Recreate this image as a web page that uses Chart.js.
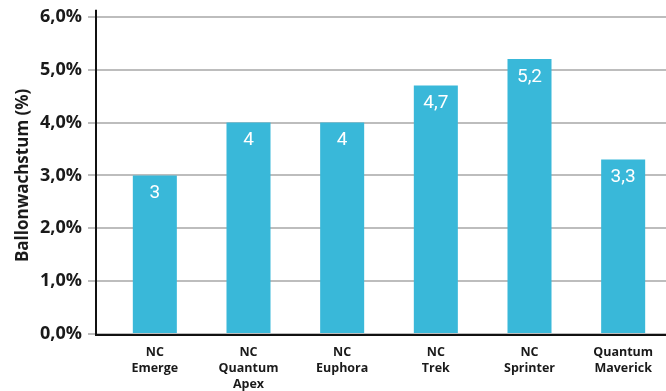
<!DOCTYPE html>
<html>
<head>
<meta charset="utf-8">
<script src="https://cdn.jsdelivr.net/npm/chart.js@4/dist/chart.umd.min.js"></script>
<style>
  html, body { margin: 0; padding: 0; background: #ffffff; overflow: hidden; }
  #wrap { width: 670px; height: 391px; }
</style>
</head>
<body>
<div id="wrap"><canvas id="c" width="670" height="391"></canvas></div>
<script>
// ---- data ----
const categories = [
  ["NC", "Emerge"],
  ["NC", "Quantum", "Apex"],
  ["NC", "Euphora"],
  ["NC", "Trek"],
  ["NC", "Sprinter"],
  ["Quantum", "Maverick"]
];
const growthValues = [3, 4, 4, 4.7, 5.2, 3.3];
const yTickMin = 0;
const yTickMax = 6;
const yTickStep = 1;
const yAxisTitle = "Ballonwachstum (%)";

const fmtComma = (v, d) => v.toFixed(d).replace('.', ',');

const axisLinesPlugin = {
  id: 'axisLines',
  afterDatasetsDraw(chart) {
    const { ctx, chartArea } = chart;
    const y = chart.scales.y;
    const base = y.getPixelForValue(0);
    ctx.save();
    ctx.strokeStyle = '#111111';
    ctx.lineWidth = 2;
    const axX = chartArea.left - 12;
    ctx.beginPath();
    ctx.moveTo(axX, chartArea.top - 7);
    ctx.lineTo(axX, base + 1);
    ctx.lineTo(chartArea.right, base + 1);
    ctx.stroke();
    // value labels
    const meta = chart.getDatasetMeta(0);
    ctx.fillStyle = '#ffffff';
    ctx.font = "400 19px Roboto, 'Open Sans', sans-serif";
    ctx.textAlign = 'center';
    ctx.textBaseline = 'middle';
    meta.data.forEach((bar, i) => {
      const v = growthValues[i];
      const txt = Number.isInteger(v) ? String(v) : fmtComma(v, 1);
      ctx.fillText(txt, bar.x, bar.y + 18);
    });
    ctx.restore();
  }
};

new Chart(document.getElementById('c'), {
  type: 'bar',
  data: {
    labels: categories,
    datasets: [{
      data: growthValues,
      backgroundColor: '#39B8D9',
      borderWidth: 0,
      barPercentage: 0.47,
      categoryPercentage: 1.0
    }]
  },
  options: {
    responsive: false,
    animation: false,
    layout: { padding: { top: 15, left: 0, right: 0, bottom: 0 } },
    plugins: { legend: { display: false }, tooltip: { enabled: false } },
    scales: {
      x: {
        grid: { display: false, drawTicks: false },
        border: { display: false },
        ticks: {
          color: '#1a1a1a',
          padding: 10,
          maxRotation: 0,
          autoSkip: false,
          font: { family: "'Open Sans', sans-serif", weight: 'bold', size: 12.5, lineHeight: 1.3 }
        },
        afterFit(scale) { scale.height = 57; }
      },
      y: {
        min: yTickMin,
        max: yTickMax,
        ticks: {
          stepSize: yTickStep,
          color: '#1a1a1a',
          padding: 6,
          font: { family: "'Open Sans', sans-serif", weight: 'bold', size: 18 },
          callback: (v) => fmtComma(v, 1) + '%'
        },
        grid: { color: '#bdbdbd', lineWidth: 2, tickLength: 20, drawTicks: true },
        border: { display: false },
        title: {
          display: true,
          text: yAxisTitle,
          color: '#1a1a1a',
          padding: { top: 13, bottom: 0 },
          font: { family: "'Open Sans', sans-serif", weight: 'bold', size: 17 }
        },
        afterFit(scale) { scale.width = 108; }
      }
    }
  },
  plugins: [axisLinesPlugin]
});
</script>
</body>
</html>
